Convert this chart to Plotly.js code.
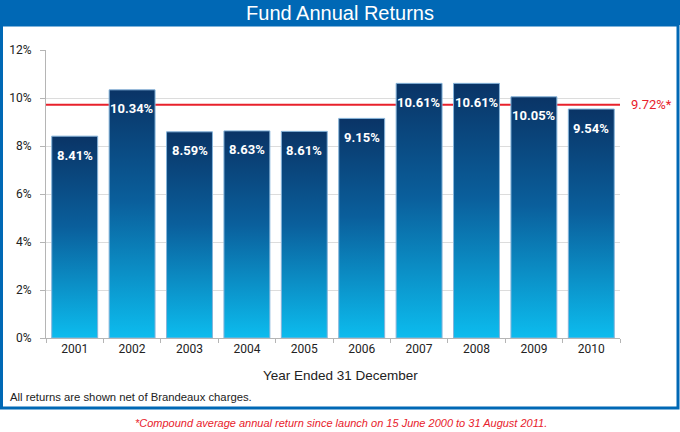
<!DOCTYPE html>
<html>
<head>
<meta charset="utf-8">
<script src="https://cdn.plot.ly/plotly-3.0.1.min.js"></script>
<style>
  html, body { margin: 0; padding: 0; background: #ffffff; }
  #chart { width: 680px; height: 432px; }
</style>
</head>
<body>
<div id="chart"></div>
<script>
// ---- data ----
const years = ['2001', '2002', '2003', '2004', '2005', '2006', '2007', '2008', '2009', '2010'];
const returns = [8.41, 10.34, 8.59, 8.63, 8.61, 9.15, 10.61, 10.61, 10.05, 9.54];
const compoundAverage = 9.72;
const yTickVals = [0, 2, 4, 6, 8, 10, 12];
const yTickText = ['0%', '2%', '4%', '6%', '8%', '10%', '12%'];

const chartTitle = 'Fund Annual Returns';
const xTitle = 'Year Ended 31 December';
const netNote = 'All returns are shown net of Brandeaux charges.';
const footNote = '*Compound average annual return since launch on 15 June 2000 to 31 August 2011.';

// ---- styling ----
const NARROW = "Roboto, 'Liberation Sans', sans-serif";
const SANS = "'Liberation Sans', Arial, Helvetica, sans-serif";
const BLUE = '#0068b5';
const RED = '#e8212b';

// plot area geometry helpers (pixels -> paper)
const L = 46, R = 60, T = 50, B = 94, W = 680, H = 432;
const PW = W - L - R, PH = H - T - B;
const px = x => (x - L) / PW;
const py = y => (H - B - y) / PH;

const barTrace = {
  type: 'bar',
  x: years,
  y: returns,
  marker: { color: '#0a5a96', line: { color: '#86b4da', width: 1 } },
  hoverinfo: 'skip'
};

// category axis: annotations positioned by category index
const labelAnnotations = years.map((yr, i) => ({
  x: i, y: returns[i], xref: 'x', yref: 'y',
  text: '<b>' + returns[i].toFixed(2) + '%</b>',
  showarrow: false, yanchor: 'middle', yshift: -19,
  font: { family: NARROW, size: 13, color: '#ffffff' }
}));

const layout = {
  width: W, height: H,
  margin: { l: L, r: R, t: T, b: B, pad: 0 },
  paper_bgcolor: '#ffffff',
  plot_bgcolor: '#ffffff',
  showlegend: false,
  bargap: 0.2,
  title: {
    text: chartTitle,
    font: { family: SANS, size: 20, color: '#ffffff' },
    xref: 'container', x: 0.5, xanchor: 'center',
    yref: 'container', y: 1 - 13 / H, yanchor: 'middle'
  },
  xaxis: {
    type: 'category',
    range: [-0.5, years.length - 0.5],
    autorange: false,
    tickson: 'boundaries',
    ticks: 'outside', ticklen: 4, tickcolor: '#b5b5b5',
    tickangle: 0,
    showline: true, linecolor: '#b5b5b5', linewidth: 1,
    showgrid: false,
    tickfont: { family: NARROW, size: 12, color: '#222222' },
    fixedrange: true
  },
  yaxis: {
    range: [0, 12],
    autorange: false,
    tickvals: yTickVals, ticktext: yTickText,
    ticks: 'outside', ticklen: 5, tickcolor: '#b5b5b5',
    showline: true, linecolor: '#b5b5b5', linewidth: 1,
    showgrid: true, gridcolor: '#dcdcdc', gridwidth: 1,
    zeroline: false,
    ticklabelstandoff: 6,
    tickfont: { family: NARROW, size: 12, color: '#222222' },
    fixedrange: true
  },
  shapes: [
    // header band
    { type: 'rect', xref: 'paper', yref: 'paper', layer: 'below',
      x0: px(0), x1: px(W), y0: py(25), y1: py(0),
      fillcolor: BLUE, line: { width: 0 } },
    // panel border
    { type: 'rect', xref: 'paper', yref: 'paper', layer: 'below',
      x0: px(1.5), x1: px(678), y0: py(408), y1: py(25),
      fillcolor: 'rgba(0,0,0,0)', line: { color: BLUE, width: 3 } },
    // compound average line (behind the bars)
    { type: 'line', xref: 'paper', yref: 'y', layer: 'below',
      x0: 0, x1: 1, y0: compoundAverage, y1: compoundAverage,
      line: { color: RED, width: 2 } }
  ],
  annotations: labelAnnotations.concat([
    { xref: 'paper', yref: 'y', x: 1, y: compoundAverage, xanchor: 'left', xshift: 9,
      yanchor: 'middle', showarrow: false,
      text: compoundAverage.toFixed(2) + '%*',
      font: { family: NARROW, size: 13, color: RED } },
    { xref: 'paper', yref: 'paper', x: px(340), y: py(375), xanchor: 'center', yanchor: 'middle',
      showarrow: false, text: xTitle,
      font: { family: SANS, size: 13.5, color: '#222222' } },
    { xref: 'paper', yref: 'paper', x: px(8), y: py(397), xanchor: 'left', yanchor: 'middle',
      showarrow: false, text: netNote,
      font: { family: SANS, size: 11.3, color: '#222222' } },
    { xref: 'paper', yref: 'paper', x: px(341), y: py(423), xanchor: 'center', yanchor: 'middle',
      showarrow: false, text: '<i>' + footNote + '</i>',
      font: { family: SANS, size: 11, color: RED } }
  ])
};

Plotly.newPlot('chart', [barTrace], layout, { staticPlot: true, displayModeBar: false }).then(gd => {
  // vertical gradient fill for each bar (dark navy top -> cyan bottom)
  const svg = gd.querySelector('svg.main-svg');
  const NS = 'http://www.w3.org/2000/svg';
  let defs = svg.querySelector('defs');
  if (!defs) { defs = document.createElementNS(NS, 'defs'); svg.insertBefore(defs, svg.firstChild); }
  const grad = document.createElementNS(NS, 'linearGradient');
  grad.setAttribute('id', 'barGradient');
  grad.setAttribute('x1', '0'); grad.setAttribute('y1', '0');
  grad.setAttribute('x2', '0'); grad.setAttribute('y2', '1');
  [['0%', '#0a3466'], ['45%', '#0a5f9c'], ['100%', '#0cbcee']].forEach(([o, c]) => {
    const s = document.createElementNS(NS, 'stop');
    s.setAttribute('offset', o); s.setAttribute('stop-color', c);
    grad.appendChild(s);
  });
  defs.appendChild(grad);
  gd.querySelectorAll('.trace.bars .point path').forEach(p => {
    p.style.fill = 'url(#barGradient)';
  });
});
</script>
</body>
</html>
